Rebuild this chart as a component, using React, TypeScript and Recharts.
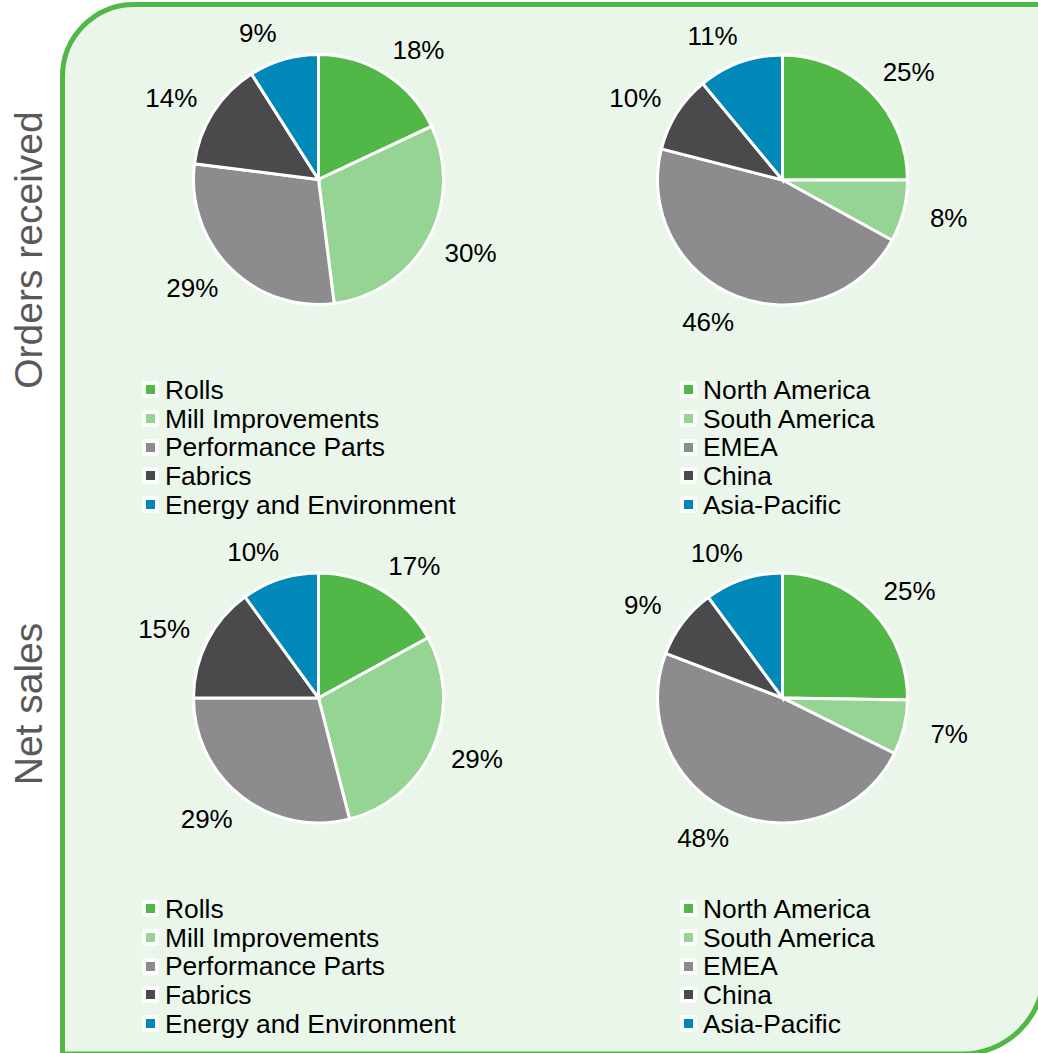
import React from "react";
import { PieChart, Pie, Cell } from "recharts";

const productCategories = ["Rolls", "Mill Improvements", "Performance Parts", "Fabrics", "Energy and Environment"];
const regionCategories = ["North America", "South America", "EMEA", "China", "Asia-Pacific"];
const ordersByProduct = [18, 30, 29, 14, 9];
const ordersByRegion = [25, 8, 46, 10, 11];
const salesByProduct = [17, 29, 29, 15, 10];
const salesByRegion = [25, 7, 48, 9, 10];
const rowTitles = ["Orders received", "Net sales"];

const COLORS = ["#51B848", "#96D494", "#8C8C8E", "#4A4A4C", "#0088B8"];
const FONT = "'Liberation Sans', Arial, sans-serif";
const W = 1038;
const H = 1053;
const R = 125;
const RAD = Math.PI / 180;

const toData = (names: string[], vals: number[]) => names.map((n, i) => ({ name: n, value: vals[i] }));

const renderLabel = (p: any) => {
  const { cx, cy, midAngle, value } = p;
  const r = 153;
  const c = Math.cos(midAngle * RAD);
  const s = Math.sin(midAngle * RAD);
  const x = cx + r * c + Math.sign(c) * 18;
  const y = cy - r * s;
  return (
    <text x={x} y={y} textAnchor="middle" dominantBaseline="central" fill="#000" fontSize={26} fontFamily={FONT}>
      {`${value}%`}
    </text>
  );
};

const pies = [
  { names: productCategories, vals: ordersByProduct, cx: 318.5, cy: 179.5 },
  { names: regionCategories, vals: ordersByRegion, cx: 782.5, cy: 180 },
  { names: productCategories, vals: salesByProduct, cx: 318.5, cy: 698 },
  { names: regionCategories, vals: salesByRegion, cx: 782.5, cy: 698 },
];

const legends = [
  { names: productCategories, left: 142, top: 390 },
  { names: regionCategories, left: 680, top: 390 },
  { names: productCategories, left: 142, top: 909 },
  { names: regionCategories, left: 680, top: 909 },
];

const Legend = ({ names, left, top }: { names: string[]; left: number; top: number }) => (
  <div style={{ position: "absolute", left, top: top - 14.5 }}>
    {names.map((n, i) => (
      <div key={n} style={{ display: "flex", alignItems: "center", height: 28.7, whiteSpace: "nowrap" }}>
        <div
          style={{
            width: 9,
            height: 9,
            border: "4px solid rgba(255,255,255,0.85)",
            borderRadius: 3,
            background: COLORS[i],
            backgroundClip: "padding-box",
            marginRight: 6,
          }}
        />
        <span style={{ fontFamily: FONT, fontSize: 26.4, color: "#000", lineHeight: "28px" }}>{n}</span>
      </div>
    ))}
  </div>
);

const panelPath = (() => {
  const l = 62.5, t = 4.5, r = 1044, b = 1054, rt = 72, rb = 82;
  return `M ${l} ${t + rt} A ${rt} ${rt} 0 0 1 ${l + rt} ${t} L ${r} ${t} L ${r} ${b - rb} A ${rb} ${rb} 0 0 1 ${r - rb} ${b} L ${l} ${b} Z`;
})();

export default function App() {
  return (
    <div style={{ position: "absolute", left: 0, top: 0, width: W, height: H, background: "#fff", overflow: "hidden" }}>
      <svg width={W} height={H} style={{ position: "absolute", left: 0, top: 0 }}>
        <path d={panelPath} fill="#EBF6EA" stroke="#51B848" strokeWidth={5} />
        {rowTitles.map((t, i) => {
          const py = i === 0 ? 250 : 704;
          return (
            <text
              key={t}
              x={42}
              y={py}
              transform={`rotate(-90, 42, ${py})`}
              textAnchor="middle"
              fill="#595959"
              fontSize={39}
              fontFamily={FONT}
            >
              {t}
            </text>
          );
        })}
      </svg>
      <div style={{ position: "absolute", left: 0, top: 0 }}>
        <PieChart width={W} height={H} margin={{ top: 0, right: 0, bottom: 0, left: 0 }}>
          {pies.map((p, k) => (
            <Pie
              key={k}
              data={toData(p.names, p.vals)}
              dataKey="value"
              nameKey="name"
              cx={p.cx}
              cy={p.cy}
              outerRadius={R}
              startAngle={90}
              endAngle={-270}
              stroke="#fff"
              strokeWidth={3}
              label={renderLabel}
              labelLine={false}
              isAnimationActive={false}
            >
              {p.vals.map((_, i) => (
                <Cell key={i} fill={COLORS[i]} />
              ))}
            </Pie>
          ))}
        </PieChart>
      </div>
      {legends.map((l, i) => (
        <Legend key={i} {...l} />
      ))}
    </div>
  );
}
